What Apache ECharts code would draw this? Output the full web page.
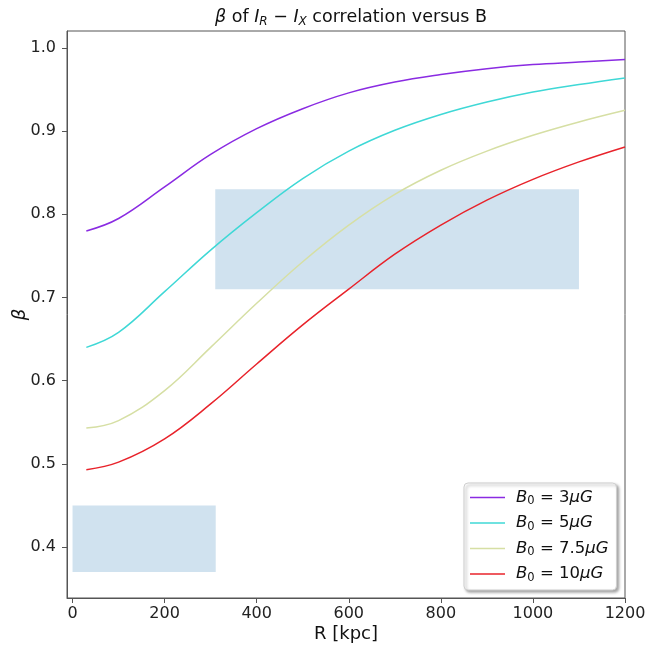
<!DOCTYPE html>
<html>
<head>
<meta charset="utf-8">
<script src="https://cdn.jsdelivr.net/npm/echarts@6/dist/echarts.min.js"></script>
<style>
html,body{margin:0;padding:0;background:#fff;}
#c{width:647px;height:652px;}
</style>
</head>
<body>
<div id="c"></div>
<script>
// Data
const R = [30, 100, 200, 300, 400, 500, 600, 700, 800, 900, 1000, 1100, 1200];
const beta3 = [0.780, 0.795, 0.833, 0.872, 0.903, 0.927, 0.946, 0.959, 0.968, 0.975, 0.980, 0.983, 0.986];
const beta5 = [0.640, 0.658, 0.707, 0.757, 0.802, 0.843, 0.876, 0.901, 0.920, 0.935, 0.947, 0.956, 0.964];
const beta75 = [0.543, 0.552, 0.588, 0.640, 0.693, 0.743, 0.787, 0.824, 0.853, 0.876, 0.895, 0.911, 0.925];
const beta10 = [0.493, 0.502, 0.530, 0.572, 0.620, 0.667, 0.710, 0.752, 0.787, 0.817, 0.842, 0.863, 0.881];
const seriesNames = ['3', '5', '7.5', '10'];
const seriesValues = [beta3, beta5, beta75, beta10];
const seriesColors = ['#8a2be2', '#3fd8d6', '#d6dfa4', '#e8232b'];
// shaded regions: [xStart, xEnd, yStart, yEnd]
const regions = [[0, 311, 0.37, 0.45], [310, 1100, 0.71, 0.83]];
const xTicks = [0, 200, 400, 600, 800, 1000, 1200];
const yTicks = [0.4, 0.5, 0.6, 0.7, 0.8, 0.9, 1.0];

const FONT = 'DejaVu Sans';
const chart = echarts.init(document.getElementById('c'), null, {renderer: 'canvas'});

const series = seriesValues.map((vals, i) => ({
  name: seriesNames[i],
  type: 'line',
  data: R.map((r, j) => [r, vals[j]]),
  smooth: 0.4,
  showSymbol: false,
  symbol: 'none',
  lineStyle: {color: seriesColors[i], width: 1.5},
  itemStyle: {color: seriesColors[i]},
  z: 3
}));
series.push({
  type: 'line',
  data: [],
  markArea: {
    silent: true,
    itemStyle: {color: 'rgba(31,119,180,0.21)'},
    data: regions.map(r => [{coord: [r[0], r[2]]}, {coord: [r[1], r[3]]}])
  },
  z: 1
});

chart.setOption({
  animation: false,
  backgroundColor: '#fff',
  title: {
    text: '{it|β}{n| of }{it|I}{sub|R}{n| − }{it|I}{sub|X}{n| correlation versus B}',
    left: 346, top: 1, textAlign: 'center',
    textStyle: {
      fontWeight: 'normal',
      rich: {
        n: {fontFamily: FONT, fontSize: 17.5, fontWeight: 'normal', color: '#111', lineHeight: 22},
        it: {fontFamily: FONT, fontSize: 17.5, fontWeight: 'normal', fontStyle: 'italic', color: '#111', lineHeight: 22},
        sub: {fontFamily: FONT, fontSize: 12, fontWeight: 'normal', fontStyle: 'italic', color: '#111', lineHeight: 12, verticalAlign: 'bottom'}
      }
    }
  },
  grid: {left: 67, right: 22, top: 31, bottom: 54, containLabel: false, outerBoundsMode: 'none', show: true, borderColor: '#555', borderWidth: 1, backgroundColor: 'transparent'},
  legend: {
    orient: 'vertical',
    left: 464, top: 483,
    icon: 'rect',
    itemWidth: 35, itemHeight: 1.5, itemGap: 7,
    padding: [6, 8, 6, 6],
    backgroundColor: '#fff',
    borderColor: '#cfcfcf', borderWidth: 1, borderRadius: 4,
    shadowColor: 'rgba(0,0,0,0.35)', shadowBlur: 3, shadowOffsetX: 2, shadowOffsetY: 2,
    data: seriesNames,
    formatter: name => '{it|B}{sub|0}{n| = ' + name + '}{it|μG}',
    textStyle: {
      padding: [0, 0, 0, 6],
      rich: {
        n: {fontFamily: FONT, fontSize: 16.5, color: '#111', lineHeight: 20},
        it: {fontFamily: FONT, fontSize: 16.5, fontStyle: 'italic', color: '#111', lineHeight: 20},
        sub: {fontFamily: FONT, fontSize: 11.5, color: '#111', lineHeight: 11, verticalAlign: 'bottom'}
      }
    }
  },
  xAxis: {
    type: 'value', min: -12, max: 1200,
    name: 'R [kpc]', nameLocation: 'middle', nameGap: 27, nameMoveOverlap: false,
    nameTextStyle: {fontFamily: FONT, fontSize: 18, color: '#111'},
    axisLine: {show: true, onZero: false, lineStyle: {color: '#555', width: 1}},
    axisTick: {show: true, length: 5, customValues: xTicks, lineStyle: {color: '#555'}},
    axisLabel: {customValues: xTicks, fontFamily: FONT, fontSize: 16, color: '#222', margin: 8, formatter: v => String(v)},
    splitLine: {show: false}
  },
  yAxis: {
    type: 'value', min: 0.3387, max: 1.0204,
    name: 'β', nameLocation: 'middle', nameGap: 38, nameRotate: 90, nameMoveOverlap: false,
    nameTextStyle: {fontFamily: FONT, fontSize: 18, fontStyle: 'italic', color: '#111'},
    axisLine: {show: true, onZero: false, lineStyle: {color: '#555', width: 1}},
    axisTick: {show: true, length: 5, customValues: yTicks, lineStyle: {color: '#555'}},
    axisLabel: {customValues: yTicks, fontFamily: FONT, fontSize: 16, color: '#222', margin: 11, formatter: v => v.toFixed(1)},
    splitLine: {show: false}
  },
  series: series
});
</script>
</body>
</html>
